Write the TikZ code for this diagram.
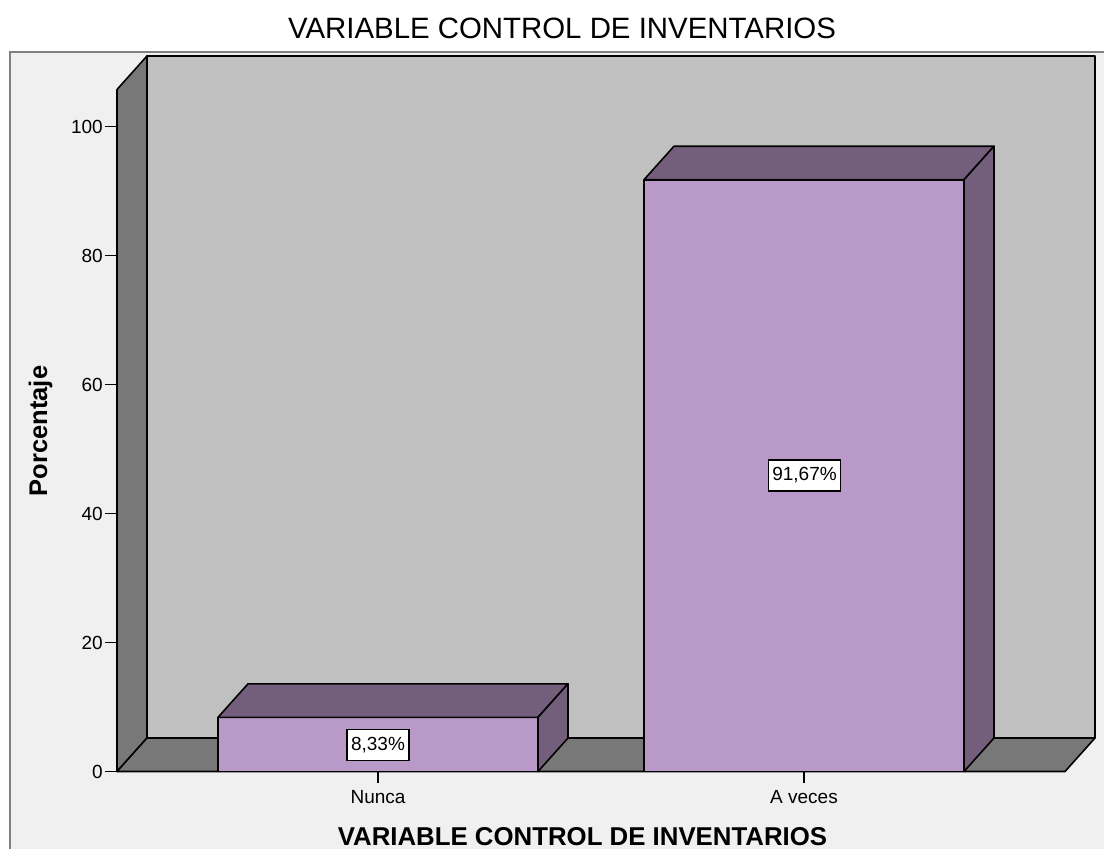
\documentclass[tikz,border=0pt]{standalone}
\usepackage{fontspec}
\setmainfont{Liberation Sans}
\usetikzlibrary{positioning}
\definecolor{panelgray}{HTML}{F0F0F0}
\definecolor{wallgray}{HTML}{C0C0C0}
\definecolor{sidegray}{HTML}{787878}
\definecolor{barfront}{HTML}{B899C8}
\definecolor{bardark}{HTML}{735F7B}

\begin{document}
\begin{tikzpicture}[x=1pt,y=-1pt,
    edge/.style={draw=black, line width=1.6pt, line join=round},
    ticklab/.style={font=\fontsize{19}{22}\selectfont, inner sep=0pt},
    valbox/.style={draw=black, fill=white, line width=1.4pt, font=\fontsize{19}{22}\selectfont,
                   minimum height=31pt, inner xsep=4pt, inner ysep=0pt},
    bigtitle/.style={font=\bfseries\fontsize{25.8}{30}\selectfont, inner sep=0pt}]
    \useasboundingbox (0,0) rectangle (1104,849);
    \fill[white] (0,0) rectangle (1104,849);
    \path[fill=panelgray, draw=gray, line width=1.5pt] (10,52) rectangle (1120,870);
    % walls and floor
    \path[edge, fill=wallgray] (147,56) rectangle (1095,738);
    \path[edge, fill=sidegray] (117,89.5) -- (147,56) -- (147,738) -- (117,771.5) -- cycle;
    \path[edge, fill=sidegray] (117,771.5) -- (147,738) -- (1095,738) -- (1065,771.5) -- cycle;
    % bars
    \foreach \x/\h in {218/717.3, 644/179.7} {
        \path[edge, fill=barfront] (\x,771.5) rectangle (\x+320,\h);
        \path[edge, fill=bardark] (\x,\h) -- ++(30,-33.5) -- ++(320,0) -- ++(-30,33.5) -- cycle;
        \path[edge, fill=bardark] (\x+320,\h) -- ++(30,-33.5) -- (\x+350,738) -- (\x+320,771.5) -- cycle;
    }
    % axis ticks
    \foreach \v in {0,20,...,100} {
        \draw[line width=1.5pt] (105,771.5-6.45*\v) -- (117,771.5-6.45*\v);
        \node[ticklab, anchor=east] (t\v) at (103,771.5-6.45*\v) {\v};
    }
    \draw[line width=1.5pt] (378,771.5) -- (378,783);
    \draw[line width=1.5pt] (804,771.5) -- (804,783);
    \node[ticklab, anchor=north] (nunca) at (378,790) {Nunca};
    \node[ticklab, anchor=north] (aveces) at (804,790) {A veces};
    % value labels
    \node[valbox] (v1) at (378,745) {8,33\%};
    \node[valbox] (v2) at (804.5,475.5) {91,67\%};
    % titles
    \node[bigtitle, font=\fontsize{29.4}{33}\selectfont, anchor=base] (title) at (562,38) {VARIABLE CONTROL DE INVENTARIOS};
    \node[bigtitle, anchor=base] (xtitle) at (582.5,845) {VARIABLE CONTROL DE INVENTARIOS};
    \node[bigtitle, font=\bfseries\fontsize{25.5}{30}\selectfont, anchor=base, rotate=90] (ytitle) at (47,431) {Porcentaje};
\end{tikzpicture}
\end{document}
